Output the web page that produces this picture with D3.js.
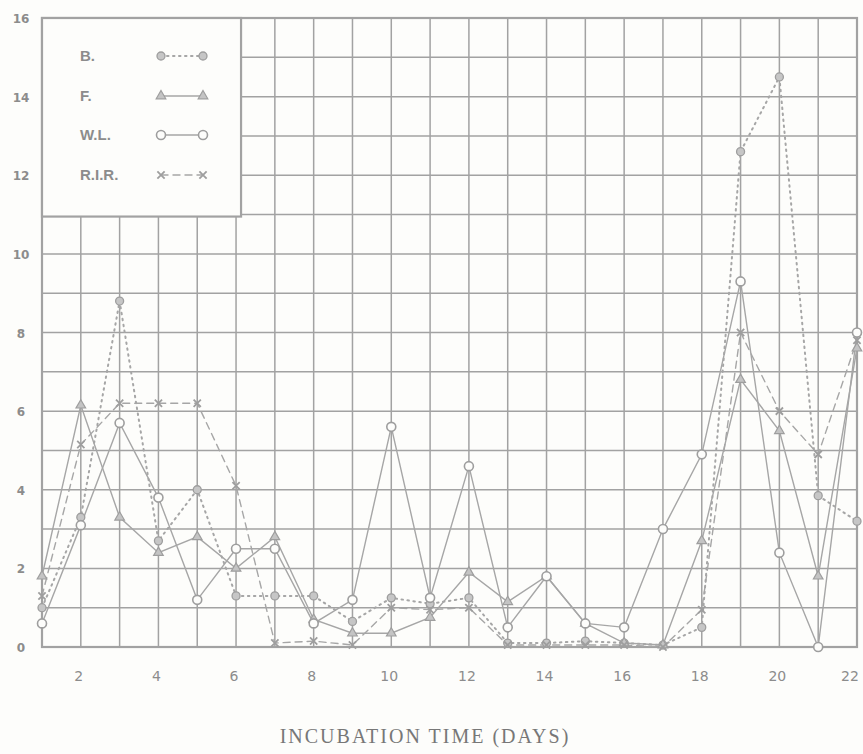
<!DOCTYPE html>
<html>
<head>
<meta charset="utf-8">
<script src="https://cdn.jsdelivr.net/npm/d3@7"></script>
<style>
  html, body { margin: 0; padding: 0; background: #fdfdfb; }
  svg { display: block; }
</style>
</head>
<body>
<svg id="chart"></svg>
<script>
//--------------------------------------------
// DATA
//--------------------------------------------
const days = [1, 2, 3, 4, 5, 6, 7, 8, 9, 10, 11, 12, 13, 14, 15, 16, 17, 18, 19, 20, 21, 22];
const seriesB   = [1.0, 3.3, 8.8, 2.7, 4.0, 1.3, 1.3, 1.3, 0.65, 1.25, 1.1, 1.25, 0.1, 0.1, 0.15, 0.1, 0.05, 0.5, 12.6, 14.5, 3.85, 3.2];
const seriesF   = [1.8, 6.15, 3.3, 2.4, 2.8, 2.0, 2.8, 0.7, 0.35, 0.35, 0.75, 1.9, 1.15, 1.8, 0.6, 0.1, 0.05, 2.7, 6.8, 5.5, 1.8, 7.6];
const seriesWL  = [0.6, 3.1, 5.7, 3.8, 1.2, 2.5, 2.5, 0.6, 1.2, 5.6, 1.25, 4.6, 0.5, 1.8, 0.6, 0.5, 3.0, 4.9, 9.3, 2.4, 0.0, 8.0];
const seriesRIR = [1.3, 5.15, 6.2, 6.2, 6.2, 4.1, 0.1, 0.15, 0.05, 1.0, 0.95, 1.0, 0.05, 0.05, 0.05, 0.05, 0.0, 0.95, 8.0, 6.0, 4.9, 7.8];

const seriesNames = ["B.", "F.", "W.L.", "R.I.R."];
const xTickLabels = [2, 4, 6, 8, 10, 12, 14, 16, 18, 20, 22];
const yTickLabels = [0, 2, 4, 6, 8, 10, 12, 14, 16];
const xTitle = "INCUBATION TIME (DAYS)";

//--------------------------------------------
// CONFIG
//--------------------------------------------
const width = 863,
      height = 754,
      margin = {top: 18, right: 6, bottom: 107, left: 42},
      ink = "#a2a2a2",
      lineInk = "#a6a6a6",
      markInk = "#9e9e9e";

const svg = d3.select("#chart")
  .attr("width", width)
  .attr("height", height);

const x = d3.scaleLinear([1, 22], [margin.left, width - margin.right]);
const y = d3.scaleLinear([0, 16], [height - margin.bottom, margin.top]);

//--------------------------------------------
// GRID
//--------------------------------------------
const grid = svg.append("g").attr("stroke", ink).attr("stroke-width", 1.5);

grid.selectAll("line.v")
  .data(d3.range(1, 23))
  .join("line")
    .attr("class", "v")
    .attr("x1", d => x(d)).attr("x2", d => x(d))
    .attr("y1", y(16)).attr("y2", y(0));

grid.selectAll("line.h")
  .data(d3.range(0, 17))
  .join("line")
    .attr("class", "h")
    .attr("x1", x(1)).attr("x2", x(22))
    .attr("y1", d => y(d)).attr("y2", d => y(d));

// frame
svg.append("rect")
  .attr("x", x(1)).attr("y", y(16))
  .attr("width", x(22) - x(1)).attr("height", y(0) - y(16))
  .attr("fill", "none")
  .attr("stroke", ink)
  .attr("stroke-width", 2.2);

//--------------------------------------------
// LEGEND BOX (blank area over the grid)
//--------------------------------------------
svg.append("rect")
  .attr("x", x(1)).attr("y", y(16))
  .attr("width", x(6) - x(1) + 5).attr("height", y(11) - y(16) + 2)
  .attr("fill", "#fdfdfb")
  .attr("stroke", ink)
  .attr("stroke-width", 2.2);

//--------------------------------------------
// SERIES
//--------------------------------------------
const series = [
  {name: seriesNames[0], values: seriesB,   dash: "1.5,4.5", marker: "dot"},
  {name: seriesNames[1], values: seriesF,   dash: null,      marker: "tri"},
  {name: seriesNames[2], values: seriesWL,  dash: null,      marker: "ring"},
  {name: seriesNames[3], values: seriesRIR, dash: "7,5",     marker: "cross"}
];

const line = d3.line()
  .x(d => x(d[0]))
  .y(d => y(d[1]));

function drawMarker(g, kind, cx, cy) {
  if (kind === "dot") {
    g.append("circle").attr("cx", cx).attr("cy", cy).attr("r", 4)
      .attr("fill", "#c6c6c6").attr("stroke", markInk).attr("stroke-width", 1.3);
  } else if (kind === "ring") {
    g.append("circle").attr("cx", cx).attr("cy", cy).attr("r", 4.5)
      .attr("fill", "#fdfdfb").attr("stroke", markInk).attr("stroke-width", 1.6);
  } else if (kind === "tri") {
    g.append("path")
      .attr("d", d3.symbol(d3.symbolTriangle, 40)())
      .attr("transform", `translate(${cx},${cy})`)
      .attr("fill", "#c4c4c4").attr("stroke", markInk).attr("stroke-width", 1.2);
  } else {
    g.append("path")
      .attr("d", d3.symbol(d3.symbolTimes, 36)())
      .attr("transform", `translate(${cx},${cy})`)
      .attr("fill", "none").attr("stroke", markInk).attr("stroke-width", 1.8);
  }
}

const plot = svg.append("g");

series.forEach(s => {
  const pts = days.map((d, i) => [d, s.values[i]]);
  plot.append("path")
    .datum(pts)
    .attr("d", line)
    .attr("fill", "none")
    .attr("stroke", lineInk)
    .attr("stroke-width", s.marker === "dot" ? 2 : 1.4)
    .attr("stroke-linecap", "round")
    .attr("stroke-dasharray", s.dash);
});

series.forEach(s => {
  const g = plot.append("g");
  days.forEach((d, i) => drawMarker(g, s.marker, x(d), y(s.values[i])));
});

//--------------------------------------------
// LEGEND ENTRIES
//--------------------------------------------
const legendY = [56, 96, 135, 175];
const leg = svg.append("g");
series.forEach((s, i) => {
  leg.append("text")
    .attr("x", 80).attr("y", legendY[i] + 5)
    .attr("fill", "#8c8c8c")
    .attr("font-family", "'Liberation Sans', Arial, sans-serif")
    .attr("font-size", 15)
    .attr("font-weight", "bold")
    .text(s.name);
  leg.append("line")
    .attr("x1", 161).attr("x2", 203)
    .attr("y1", legendY[i]).attr("y2", legendY[i])
    .attr("stroke", lineInk)
    .attr("stroke-width", s.marker === "dot" ? 2 : 1.4)
    .attr("stroke-linecap", "round")
    .attr("stroke-dasharray", s.dash);
  drawMarker(leg, s.marker, 161, legendY[i]);
  drawMarker(leg, s.marker, 203, legendY[i]);
});

//--------------------------------------------
// TICK LABELS + TITLE
//--------------------------------------------
svg.append("g")
  .selectAll("text")
  .data(yTickLabels)
  .join("text")
    .attr("x", 21)
    .attr("y", d => y(d) + 5)
    .attr("text-anchor", "middle")
    .attr("fill", "#8c8c8c")
    .attr("font-family", "'DejaVu Sans', sans-serif")
    .attr("font-size", 12)
    .attr("font-weight", "bold")
    .text(d => d);

svg.append("g")
  .selectAll("text")
  .data(xTickLabels)
  .join("text")
    .attr("x", d => Math.min(x(d) - 2, 850))
    .attr("y", 681)
    .attr("text-anchor", "middle")
    .attr("fill", "#8c8c8c")
    .attr("font-family", "'DejaVu Sans', sans-serif")
    .attr("font-size", 14)
    .text(d => d);

svg.append("text")
  .attr("x", 425)
  .attr("y", 743)
  .attr("text-anchor", "middle")
  .attr("fill", "#777")
  .attr("font-family", "'Liberation Serif', 'DejaVu Serif', serif")
  .attr("font-size", 20)
  .attr("letter-spacing", 2)
  .text(xTitle);
</script>
</body>
</html>
